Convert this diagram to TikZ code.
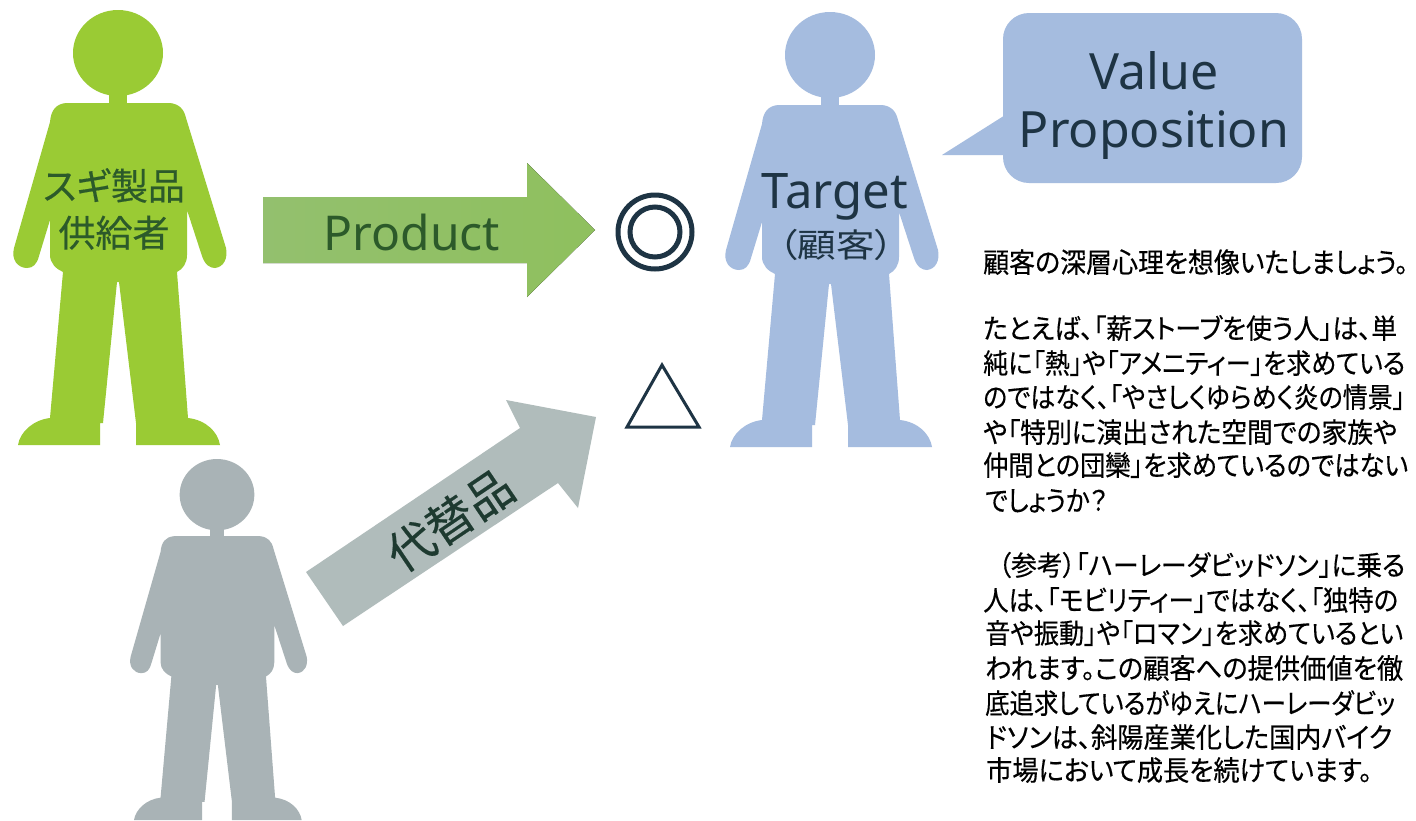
\documentclass[tikz,border=0pt]{standalone}
\usepackage{fontspec}
\usepackage{graphicx}
\setmainfont{Noto Sans}
\newfontfamily\jp[RawFeature=+palt]{Noto Sans CJK JP}
\newfontfamily\jpb[RawFeature=+palt,FakeBold=0.4]{Noto Sans CJK JP}
\newcommand{\fs}[2]{\fontsize{#1pt}{#2pt}\selectfont}
\newcommand{\jl}[2]{\resizebox{#1pt}{23.5pt}{\fs{26}{30}\jpb\rule{0pt}{22pt}#2}}
\definecolor{gperson}{HTML}{9ACB34}
\definecolor{bperson}{HTML}{A5BCDF}
\definecolor{yperson}{HTML}{A9B3B6}
\definecolor{garrow}{HTML}{8FC05E}
\definecolor{garrowl}{HTML}{93C06E}
\definecolor{yarrow}{HTML}{B0BCBB}
\definecolor{ink}{HTML}{1E3444}
\definecolor{gink}{HTML}{2C5A2A}
\definecolor{ginktext}{HTML}{1E3A30}
\tikzset{
  x=1pt,y=-1pt,
  pics/person/.style={code={
    \path[pic actions] (0,43) ellipse [x radius=45, y radius=43];
    \path[pic actions] (-9,78) rectangle (9,100);
    \path[pic actions]
      (-9,93) -- (-52,93) .. controls (-62,94) and (-67,100) .. (-68,112)
      -- (-104,238) .. controls (-107,250) and (-100,258) .. (-91,258)
      .. controls (-85,258) and (-81,254) .. (-79,246)
      -- (-68,210) -- (-68,245) .. controls (-68,253) and (-62,259) .. (-55,262)
      -- (-68,408) .. controls (-85,410) and (-98,422) .. (-100,435)
      -- (-18,435) -- (-18,413) -- (-15,413) -- (-1,272) -- (1,272) -- (18,413) -- (18,435)
      -- (102,435) .. controls (100,422) and (88,410) .. (70,408)
      -- (59,262) .. controls (65,259) and (69,253) .. (69,245)
      -- (69,200) -- (84,246) .. controls (87,255) and (92,258) .. (97,258)
      .. controls (106,257) and (110,248) .. (108,238)
      -- (68,108) .. controls (66,99) and (61,94) .. (52,93) -- (9,93) -- cycle;
  }},
  ptext/.style={inner sep=0pt,align=center},
  jline/.style={inner sep=0pt,anchor=west,text=black},
}
\begin{document}
\begin{tikzpicture}
\useasboundingbox (0,0) rectangle (1416,820);
\fill[white] (0,0) rectangle (1416,820);

% persons
\pic[fill=gperson] at (118,10) {person};
\pic[fill=bperson] at (830,12) {person};
\pic[fill=yperson,scale=0.83] at (217,459) {person};

\node[ptext,text=gink,font=\jpb\fs{37}{47}] (supply) at (114,209) {スギ製品\\供給者};

% arrows
\fill[left color=garrowl,right color=garrow]
  (263,197) -- (527,197) -- (527,163) -- (595,230) -- (527,297) -- (527,263) -- (263,263) -- cycle;
\node[ptext,text=gink,font=\fs{48}{56}] (product) at (412,232) {Product};

\fill[yarrow]
  (306,572) -- (520,428) -- (506,400) -- (596,417) -- (578,508) -- (558,483) -- (343,626) -- cycle;
\node[ptext,text=ginktext,rotate=34,font=\jpb\fs{47}{56}] (subst) at (450,520) {代替品};

% marks
\draw[ink,line width=5pt] (655,232) circle [radius=37];
\draw[ink,line width=5pt] (655,232) circle [radius=25];
\draw[ink,line width=3pt,line join=miter] (662,365) -- (699,427) -- (627,427) -- cycle;

% target labels
\node[ptext,text=ink,font=\fs{49}{56}] (target) at (835,197) {Target};
\node[ptext,text=ink,font=\jp\fs{33}{40}] (kokyaku) at (836,245) {\scalebox{1.17}[1]{（顧客）}};

% bubble
\fill[bperson] (942,155) -- (1010,112) -- (1010,155) -- cycle;
\fill[bperson,rounded corners=26pt] (1003,13) rectangle (1302,183);
\node[ptext,text=ink,font=\fs{50}{58}] (value) at (1154,105) {Value\\Proposition};

% body text
\node[jline] (l1) at (983,262) {\jl{425}{顧客の深層心理を想像いたしましょう。}};
\node[jline] (l2) at (983,328) {\jl{414}{たとえば、「薪ストーブを使う人」は、単}};
\node[jline] (l3) at (983,363) {\jl{422}{純に「熱」や「アメニティー」を求めている}};
\node[jline] (l4) at (983,397) {\jl{422}{のではなく、「やさしくゆらめく炎の情景」}};
\node[jline] (l5) at (983,432) {\jl{414}{や「特別に演出された空間での家族や}};
\node[jline] (l6) at (983,465) {\jl{425}{仲間との団欒」を求めているのではない}};
\node[jline] (l7) at (985,500) {\jl{122}{でしょうか？}};
\node[jline] (l8) at (998,565) {\jl{407}{（参考）「ハーレーダビッドソン」に乗る}};
\node[jline] (l9) at (983,600) {\jl{415}{人は、「モビリティー」ではなく、「独特の}};
\node[jline] (l10) at (985,633) {\jl{418}{音や振動」や「ロマン」を求めているとい}};
\node[jline] (l11) at (985,668) {\jl{418}{われます。この顧客への提供価値を徹}};
\node[jline] (l12) at (985,703) {\jl{410}{底追求しているがゆえにハーレーダビッ}};
\node[jline] (l13) at (986,737) {\jl{406}{ドソンは、斜陽産業化した国内バイク}};
\node[jline] (l14) at (986,770) {\jl{386}{市場において成長を続けています。}};
\end{tikzpicture}
\end{document}
